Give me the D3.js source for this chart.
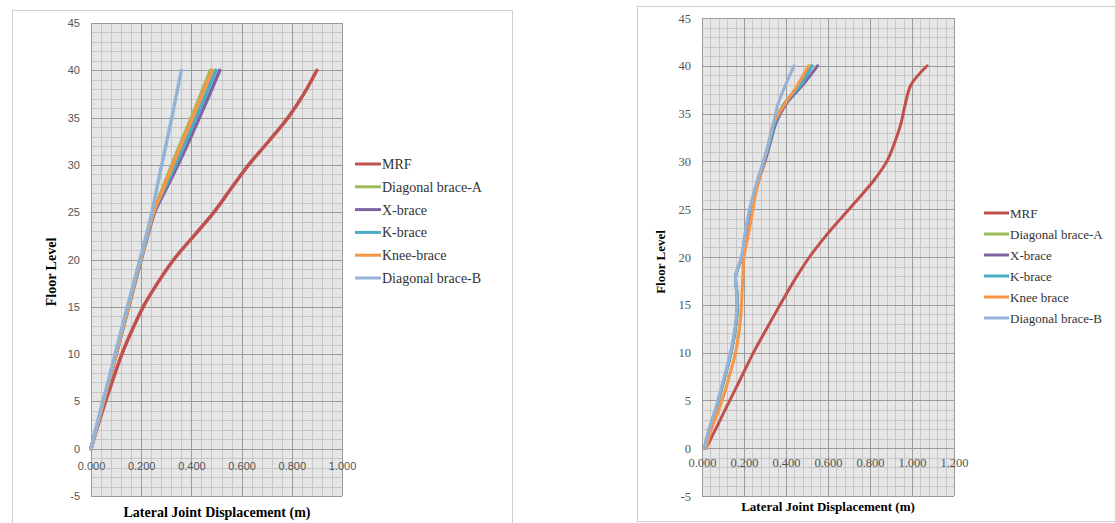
<!doctype html>
<html lang="en">
<head>
<meta charset="utf-8">
<title>Lateral joint displacement</title>
<script src="https://d3js.org/d3.v7.min.js"></script>
<style>
  body { margin: 0; background: #fff; }
  svg { display: block; }
</style>
</head>
<body>
<svg id="chart" width="1115" height="523"></svg>
<script>
// ---- data ----
const colors = ["#c0504d", "#9bbb59", "#8064a2", "#4bacc6", "#f79646", "#95b3d7"];
const namesLeft = ["MRF", "Diagonal brace-A", "X-brace", "K-brace", "Knee-brace", "Diagonal brace-B"];
const namesRight = ["MRF", "Diagonal brace-A", "X-brace", "K-brace", "Knee brace", "Diagonal brace-B"];

const xTicksLeft = [0, 0.2, 0.4, 0.6, 0.8, 1.0];
const xTicksRight = [0, 0.2, 0.4, 0.6, 0.8, 1.0, 1.2];
const yTicks = [-5, 0, 5, 10, 15, 20, 25, 30, 35, 40, 45];

// left chart, floors every 2.5
const floorsLeft = [0, 2.5, 5, 7.5, 10, 12.5, 15, 17.5, 20, 22.5, 25, 27.5, 30, 32.5, 35, 37.5, 40];
const mrfLeft    = [0, 0.028, 0.058, 0.09, 0.123, 0.163, 0.208, 0.265, 0.33, 0.41, 0.49, 0.558, 0.628, 0.708, 0.785, 0.848, 0.90];
const diagALeft  = [0, 0.025, 0.05, 0.075, 0.1, 0.124, 0.149, 0.173, 0.198, 0.222, 0.248, 0.285, 0.322, 0.36, 0.40, 0.438, 0.476];
const xBraceLeft = [0, 0.025, 0.05, 0.075, 0.1, 0.125, 0.15, 0.175, 0.2, 0.226, 0.254, 0.30, 0.346, 0.39, 0.432, 0.473, 0.513];
const kBraceLeft = [0, 0.025, 0.05, 0.075, 0.1, 0.125, 0.15, 0.174, 0.199, 0.224, 0.25, 0.293, 0.336, 0.378, 0.418, 0.458, 0.497];
const kneeLeft   = [0, 0.025, 0.05, 0.075, 0.1, 0.124, 0.149, 0.173, 0.198, 0.223, 0.25, 0.288, 0.326, 0.365, 0.405, 0.444, 0.483];
const diagBLeft  = [0, 0.023, 0.047, 0.072, 0.096, 0.12, 0.145, 0.17, 0.195, 0.22, 0.243, 0.262, 0.282, 0.302, 0.322, 0.341, 0.36];

// right chart, floors every 2
const floorsRight = [0, 2, 4, 6, 8, 10, 12, 14, 16, 18, 20, 22, 24, 26, 28, 30, 32, 34, 36, 38, 40];
const mrfRight    = [0.02, 0.065, 0.11, 0.155, 0.2, 0.245, 0.295, 0.346, 0.398, 0.452, 0.512, 0.582, 0.66, 0.74, 0.818, 0.88, 0.918, 0.948, 0.968, 0.995, 1.072];
const diagARight  = [0.012, 0.036, 0.066, 0.091, 0.116, 0.139, 0.156, 0.167, 0.168, 0.161, 0.19, 0.204, 0.22, 0.242, 0.268, 0.297, 0.322, 0.345, 0.39, 0.462, 0.515];
const xBraceRight = [0.012, 0.035, 0.065, 0.09, 0.115, 0.138, 0.155, 0.166, 0.167, 0.16, 0.19, 0.205, 0.222, 0.245, 0.27, 0.30, 0.326, 0.352, 0.40, 0.48, 0.55];
const kBraceRight = [0.012, 0.035, 0.065, 0.09, 0.115, 0.138, 0.155, 0.166, 0.167, 0.16, 0.19, 0.203, 0.219, 0.241, 0.267, 0.296, 0.322, 0.347, 0.392, 0.47, 0.525];
const kneeRight   = [0.02, 0.045, 0.08, 0.11, 0.136, 0.16, 0.175, 0.185, 0.19, 0.195, 0.2, 0.217, 0.235, 0.25, 0.27, 0.295, 0.318, 0.34, 0.395, 0.455, 0.508];
const diagBRight  = [0.012, 0.034, 0.063, 0.088, 0.113, 0.136, 0.153, 0.164, 0.166, 0.16, 0.188, 0.202, 0.217, 0.238, 0.263, 0.292, 0.318, 0.34, 0.362, 0.398, 0.438];

const svg = d3.select("#chart");

function drawChart(c) {
  const g = svg.append("g");

  // outer frame
  g.append("rect")
    .attr("x", c.frame[0] + 0.5).attr("y", c.frame[1] + 0.5)
    .attr("width", c.frame[2]).attr("height", c.frame[3])
    .attr("fill", "#fff").attr("stroke", "#cfcfcf");

  const x = d3.scaleLinear().domain(c.xDomain).range([c.left, c.right]);
  const y = d3.scaleLinear().domain([-5, 45]).range([c.bottom, c.top]);

  g.append("rect")
    .attr("x", c.left).attr("y", c.top)
    .attr("width", c.right - c.left).attr("height", c.bottom - c.top)
    .attr("fill", "#e6e6e6");

  // minor grid
  const minorX = d3.range(0, Math.round(c.xDomain[1] / 0.04) + 1).map(i => i * 0.04);
  const minorY = d3.range(-5, 46);
  g.append("g").selectAll("line").data(minorX).join("line")
    .attr("x1", d => Math.round(x(d)) + 0.5).attr("x2", d => Math.round(x(d)) + 0.5)
    .attr("y1", c.top).attr("y2", c.bottom)
    .attr("stroke", "#c6c6c6");
  g.append("g").selectAll("line").data(minorY).join("line")
    .attr("y1", d => Math.round(y(d)) + 0.5).attr("y2", d => Math.round(y(d)) + 0.5)
    .attr("x1", c.left).attr("x2", c.right)
    .attr("stroke", "#c6c6c6");

  // major grid
  g.append("g").selectAll("line").data(c.xTicks).join("line")
    .attr("x1", d => Math.round(x(d)) + 0.5).attr("x2", d => Math.round(x(d)) + 0.5)
    .attr("y1", c.top).attr("y2", c.bottom)
    .attr("stroke", "#9a9a9a");
  g.append("g").selectAll("line").data(yTicks).join("line")
    .attr("y1", d => Math.round(y(d)) + 0.5).attr("y2", d => Math.round(y(d)) + 0.5)
    .attr("x1", c.left).attr("x2", c.right)
    .attr("stroke", "#9a9a9a");

  // axes (labels only)
  const xAxis = g.append("g")
    .attr("transform", `translate(0,${Math.round(y(0))})`)
    .call(d3.axisBottom(x).tickValues(c.xTicks).tickFormat(d => d.toFixed(3)).tickSize(0).tickPadding(c.xPad));
  const yAxis = g.append("g")
    .attr("transform", `translate(${c.left},0)`)
    .call(d3.axisLeft(y).tickValues(yTicks).tickFormat(d => String(d)).tickSize(0).tickPadding(c.yPad));
  [xAxis, yAxis].forEach(a => {
    a.select(".domain").remove();
    a.selectAll("text")
      .attr("font-family", c.tickFont).attr("font-size", c.tickSize).attr("fill", "#555");
  });

  // series
  const line = d3.line()
    .x(d => x(d[0])).y(d => y(d[1]))
    .curve(d3.curveCatmullRom.alpha(0.5));
  c.series.forEach((s, i) => {
    g.append("path")
      .datum(s.map((v, k) => [v, c.floors[k]]))
      .attr("d", line)
      .attr("fill", "none")
      .attr("stroke", colors[i])
      .attr("stroke-width", c.lineWidth)
      .attr("stroke-linecap", "round")
      .attr("stroke-linejoin", "round");
  });

  // axis titles
  g.append("text")
    .attr("x", c.xTitle[0]).attr("y", c.xTitle[1])
    .attr("text-anchor", "middle")
    .attr("font-family", "'Liberation Serif', 'Times New Roman', serif")
    .attr("font-weight", "bold").attr("font-size", c.titleSize)
    .text("Lateral Joint Displacement (m)");
  g.append("text")
    .attr("transform", `translate(${c.yTitle[0]},${c.yTitle[1]}) rotate(-90)`)
    .attr("text-anchor", "middle")
    .attr("font-family", "'Liberation Serif', 'Times New Roman', serif")
    .attr("font-weight", "bold").attr("font-size", c.titleSize)
    .text("Floor Level");

  // legend
  const leg = g.append("g").attr("transform", `translate(${c.legend[0]},${c.legend[1]})`);
  const item = leg.selectAll("g").data(c.names).join("g")
    .attr("transform", (d, i) => `translate(0,${i * c.legendStep})`);
  item.append("line")
    .attr("x1", 0).attr("x2", c.legendLine).attr("y1", 0).attr("y2", 0)
    .attr("stroke", (d, i) => colors[i]).attr("stroke-width", 3);
  item.append("text")
    .attr("x", c.legendLine + 1).attr("dy", "0.35em")
    .attr("font-family", "'Liberation Serif', 'Times New Roman', serif")
    .attr("font-size", c.legendSize).attr("fill", "#333")
    .text(d => d);
}

drawChart({
  frame: [12, 10, 500, 530],
  left: 91, right: 342, top: 23, bottom: 496,
  xDomain: [0, 1], xTicks: xTicksLeft,
  tickFont: "'Liberation Sans', Arial, sans-serif", tickSize: 11, xPad: 13, yPad: 11,
  floors: floorsLeft,
  series: [mrfLeft, diagALeft, xBraceLeft, kBraceLeft, kneeLeft, diagBLeft],
  lineWidth: 3.5,
  xTitle: [217, 517], yTitle: [56, 272], titleSize: 14,
  names: namesLeft, legend: [355, 164], legendStep: 22.8, legendLine: 26, legendSize: 14
});

drawChart({
  frame: [637, 6, 500, 515],
  left: 702, right: 954, top: 18, bottom: 496,
  xDomain: [0, 1.2], xTicks: xTicksRight,
  tickFont: "'Liberation Serif', 'Times New Roman', serif", tickSize: 12.5, xPad: 10, yPad: 11,
  floors: floorsRight,
  series: [mrfRight, diagARight, xBraceRight, kBraceRight, kneeRight, diagBRight],
  lineWidth: 3,
  xTitle: [828, 511], yTitle: [665, 262], titleSize: 13,
  names: namesRight, legend: [984, 213], legendStep: 21, legendLine: 25, legendSize: 13
});
</script>
</body>
</html>
